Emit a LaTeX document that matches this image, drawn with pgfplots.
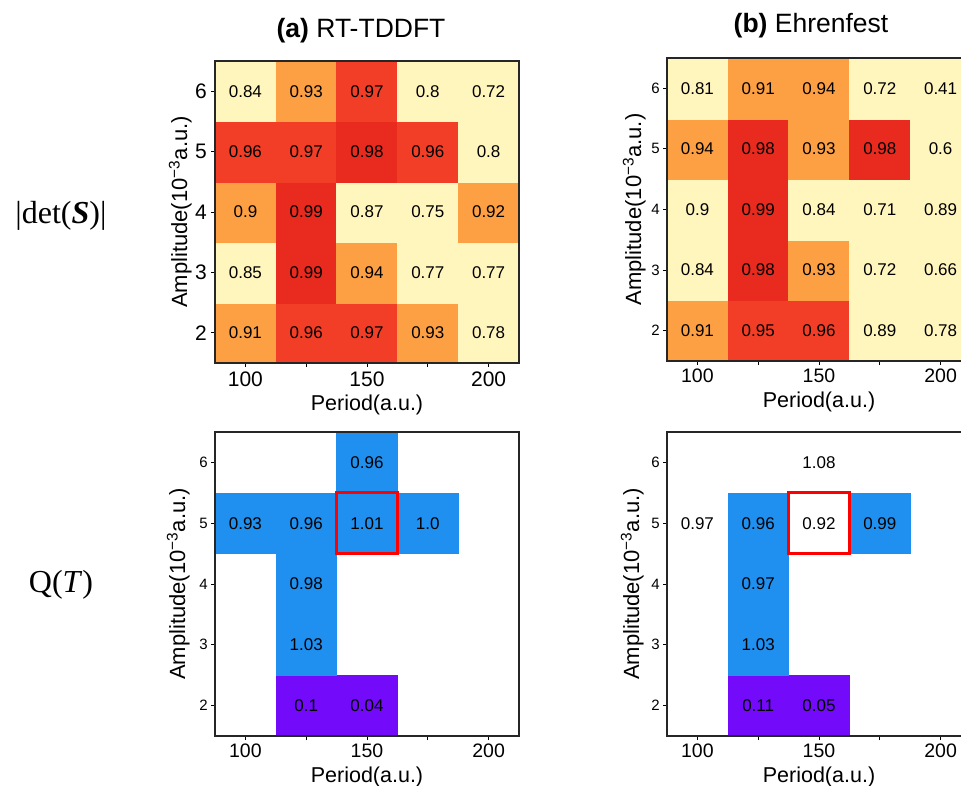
\documentclass[border=0pt]{standalone}
\usepackage{fontspec}
\setmainfont{Liberation Sans}
\newfontfamily\seriff{Liberation Serif}
\usepackage{pgfplots}
\usepackage{pgfplotstable}
\pgfplotsset{compat=1.18}

% columns: period, amplitude, colour class, shown value
\pgfplotstableread{
x   y c lab
100 2 2 0.91
125 2 3 0.96
150 2 3 0.97
175 2 2 0.93
200 2 1 0.78
100 3 1 0.85
125 3 4 0.99
150 3 2 0.94
175 3 1 0.77
200 3 1 0.77
100 4 2 0.9
125 4 4 0.99
150 4 1 0.87
175 4 1 0.75
200 4 2 0.92
100 5 3 0.96
125 5 3 0.97
150 5 4 0.98
175 5 3 0.96
200 5 1 0.8
100 6 1 0.84
125 6 2 0.93
150 6 3 0.97
175 6 1 0.8
200 6 1 0.72
}\detA

\pgfplotstableread{
x   y c lab
100 2 2 0.91
125 2 3 0.95
150 2 3 0.96
175 2 1 0.89
200 2 1 0.78
100 3 1 0.84
125 3 4 0.98
150 3 2 0.93
175 3 1 0.72
200 3 1 0.66
100 4 1 0.9
125 4 4 0.99
150 4 1 0.84
175 4 1 0.71
200 4 1 0.89
100 5 2 0.94
125 5 4 0.98
150 5 2 0.93
175 5 4 0.98
200 5 1 0.6
100 6 1 0.81
125 6 2 0.91
150 6 2 0.94
175 6 1 0.72
200 6 1 0.41
}\detB

% Q(T): c = 0 marks a cell left white
\pgfplotstableread{
x   y c lab
125 2 6 0.1
150 2 6 0.04
125 3 5 1.03
125 4 5 0.98
100 5 5 0.93
125 5 5 0.96
150 5 5 1.01
175 5 5 1.0
150 6 5 0.96
}\qA

\pgfplotstableread{
x   y c lab
125 2 6 0.11
150 2 6 0.05
125 3 5 1.03
125 4 5 0.97
100 5 0 0.97
125 5 5 0.96
150 5 0 0.92
175 5 5 0.99
150 6 0 1.08
}\qB

% red frame around the (150, 5) cell
\pgfplotstableread{
x     y
137.5 4.5
162.5 4.5
162.5 5.5
137.5 5.5
137.5 4.5
}\frametab

\pgfplotsset{
  hm/.style={
    scale only axis, width=304pt, anchor=south west,
    xmin=87.5, xmax=212.5, ymin=1.5, ymax=6.5,
    xtick={100,125,150,175,200}, xticklabels={100,,150,,200},
    ytick={2,3,4,5,6}, yticklabels={2,3,4,5,6},
    tick pos=left, tick align=outside, major tick length=4pt,
    every tick/.style={black, line width=0.9pt},
    axis line style={line width=1.8pt, black!85},
    axis on top, clip marker paths=true,
    colormap={cls}{rgb255(0cm)=(255,255,255) rgb255(1cm)=(255,246,190)
      rgb255(2cm)=(253,160,68) rgb255(3cm)=(242,62,38) rgb255(4cm)=(233,42,30)
      rgb255(5cm)=(31,144,240) rgb255(6cm)=(115,10,250) rgb255(7cm)=(115,10,250)},
    colormap access=piecewise constant,
    /pgf/number format/assume math mode=true,
    xlabel={Period(a.u.)},
    ylabel={Amplitude(10\textsuperscript{−3}a.u.)},
    xlabel style={font=\fontsize{21.5}{21.5}\selectfont, inner sep=0pt, anchor=base},
    ylabel style={font=\fontsize{22}{22}\selectfont, inner sep=0pt, anchor=base},
    xticklabel style={inner sep=0pt, anchor=base},
    yticklabel style={inner sep=0pt, anchor=east},
  },
  hmcells/.style={scatter, only marks, mark=square*, mark size=30.4pt,
    point meta=explicit, point meta min=-0.5, point meta max=6.5,
    scatter/use mapped color={draw=mapped color, fill=mapped color},
    mark options={line width=0.3pt}},
  hmvals/.style={only marks, mark=none, point meta=explicit symbolic,
    nodes near coords={\pgfplotspointmeta}, nodes near coords align={center},
    every node near coord/.append style={font=\fontsize{17}{17}\selectfont,
      text=black, inner sep=0pt, anchor=center}},
  hmframe/.style={red, line width=3pt, mark=none, point meta=none,
    line join=miter, line cap=rect},
}

\begin{document}
\begin{tikzpicture}[x=1pt,y=1pt]

% (a) top
\begin{axis}[hm, at={(215pt,422pt)}, height=302pt,
  xticklabel style={font=\fontsize{21}{21}\selectfont, yshift=-20pt},
  yticklabel style={font=\fontsize{21}{21}\selectfont, xshift=-4pt},
  xlabel style={at={(axis description cs:0.5,-0.156)}},
  ylabel style={at={(axis description cs:-0.092,0.5)}}]
\addplot[hmcells] table[x=x,y=y,meta=c] {\detA};
\addplot[hmvals] table[x=x,y=y,meta=lab] {\detA};
\end{axis}

% (b) top
\begin{axis}[hm, at={(667pt,424pt)}, height=303pt,
  xticklabel style={font=\fontsize{19.5}{19.5}\selectfont, yshift=-18pt},
  yticklabel style={font=\fontsize{15}{15}\selectfont, xshift=-3pt},
  xlabel style={at={(axis description cs:0.5,-0.153)}},
  ylabel style={at={(axis description cs:-0.085,0.5)}}]
\addplot[hmcells] table[x=x,y=y,meta=c] {\detB};
\addplot[hmvals] table[x=x,y=y,meta=lab] {\detB};
\end{axis}

% (a) bottom
\begin{axis}[hm, at={(215pt,49pt)}, height=304pt,
  xticklabel style={font=\fontsize{19.5}{19.5}\selectfont, yshift=-17pt},
  yticklabel style={font=\fontsize{15}{15}\selectfont, xshift=-3pt},
  xlabel style={at={(axis description cs:0.5,-0.152)}},
  ylabel style={at={(axis description cs:-0.098,0.5)}}]
\addplot[hmcells] table[x=x,y=y,meta=c] {\qA};
\addplot[hmvals] table[x=x,y=y,meta=lab] {\qA};
\addplot[hmframe] table[x=x,y=y] {\frametab};
\end{axis}

% (b) bottom
\begin{axis}[hm, at={(667pt,49pt)}, height=304pt,
  xticklabel style={font=\fontsize{19.5}{19.5}\selectfont, yshift=-17pt},
  yticklabel style={font=\fontsize{15}{15}\selectfont, xshift=-3pt},
  xlabel style={at={(axis description cs:0.5,-0.152)}},
  ylabel style={at={(axis description cs:-0.092,0.5)}}]
\addplot[hmcells] table[x=x,y=y,meta=c] {\qB};
\addplot[hmvals] table[x=x,y=y,meta=lab] {\qB};
\addplot[hmframe] table[x=x,y=y] {\frametab};
\end{axis}

% titles and row labels
\node[anchor=base, font=\fontsize{26.5}{26.5}\selectfont] at (361pt,747pt) {\textbf{(a)} RT-TDDFT};
\node[anchor=base, font=\fontsize{26.5}{26.5}\selectfont] at (811pt,752pt) {\textbf{(b)} Ehrenfest};
\node[font=\seriff\fontsize{32}{32}\selectfont] at (61pt,569pt) {|det(\textbf{\textit{S}})|};
\node[font=\seriff\fontsize{32}{32}\selectfont] at (61pt,200pt) {Q(\textit{T})};

\pgfresetboundingbox
\path[use as bounding box] (0pt,0pt) rectangle (961pt,785pt);
\end{tikzpicture}
\end{document}
